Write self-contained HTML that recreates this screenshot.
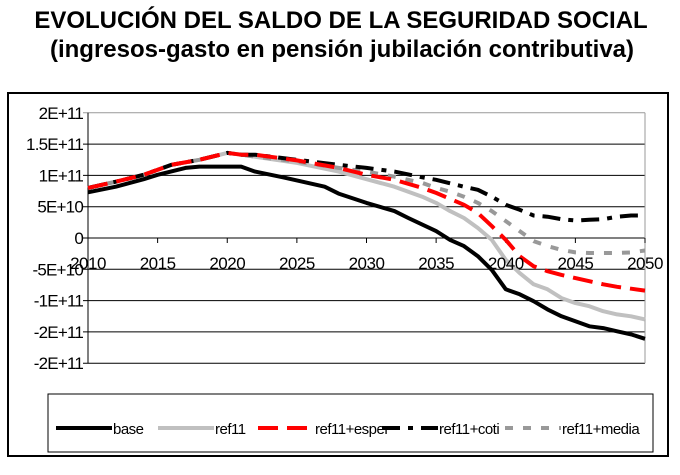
<!DOCTYPE html>
<html><head><meta charset="utf-8"><style>
body{margin:0;background:#fff;width:680px;height:470px;overflow:hidden;font-family:"Liberation Sans",Arial,sans-serif}
</style></head><body>
<svg id="chart" width="680" height="470" xmlns="http://www.w3.org/2000/svg">
<text x="341" y="28" text-anchor="middle" font-size="24" font-weight="bold">EVOLUCIÓN DEL SALDO DE LA SEGURIDAD SOCIAL</text>
<text x="342" y="57" text-anchor="middle" font-size="24" font-weight="bold">(ingresos-gasto en pensión jubilación contributiva)</text>
<rect x="8" y="93" width="660" height="363" fill="none" stroke="#000" stroke-width="2"/>
<g id="grid"></g><g id="series"></g><g id="labels"></g>
<rect x="48" y="394" width="605" height="58" fill="#fff" stroke="#000" stroke-width="1"/>
<g id="legend"></g>
</svg>
<script>
const yTicks=[20,15,10,5,0,-5,-10,-15,-20];
const yTickLabels=["2E+11","1.5E+11","1E+11","5E+10","0","-5E+10","-1E+11","-2E+11","-2E+11"];
const xTicks=[2010,2015,2020,2025,2030,2035,2040,2045,2050];
const seriesNames=["base","ref11","ref11+esper","ref11+coti","ref11+media"];
const commonYears=[2010,2012,2014,2016,2018,2020,2021];
const commonVals=[8,9,10.1,11.7,12.5,13.6,13.3];
const baseYears=[2010,2012,2014,2015,2017,2018,2021,2022,2024,2025,2027,2028,2030,2032,2033,2035,2036,2037,2038,2039,2040,2041,2042,2043,2044,2045,2046,2047,2048,2049,2050];
const baseVals=[7.3,8.2,9.4,10.1,11.2,11.4,11.4,10.6,9.7,9.2,8.2,7.1,5.6,4.3,3.2,1.1,-0.3,-1.3,-2.9,-5.1,-8.2,-9,-10.1,-11.4,-12.5,-13.3,-14.1,-14.4,-14.9,-15.4,-16.1];
const ref11Years=[2025,2028,2030,2032,2034,2035,2036,2037,2038,2039,2040,2041,2042,2043,2044,2045,2046,2047,2048,2049,2050];
const ref11Vals=[12.0,10.6,9.4,8.2,6.6,5.6,4.3,3.2,1.6,-0.3,-3.5,-5.6,-7.4,-8.2,-9.6,-10.4,-10.9,-11.7,-12.2,-12.5,-13];
const esperYears=[2022,2025,2028,2030,2032,2034,2035,2037,2038,2039,2040,2041,2042,2043,2044,2045,2046,2047,2048,2049,2050];
const esperVals=[13.3,12.4,11.2,10.1,9.3,8,7.2,5.3,4,1.9,-0.3,-2.9,-4.5,-5.3,-5.9,-6.4,-6.9,-7.4,-7.8,-8.1,-8.4];
const cotiYears=[2022,2025,2028,2030,2032,2034,2035,2037,2038,2039,2040,2041,2042,2043,2044,2045,2046,2047,2048,2049,2050];
const cotiVals=[13.3,12.5,11.7,11.2,10.6,9.7,9.3,8.2,7.7,6.6,5.3,4.5,3.6,3.4,3,2.8,2.9,3,3.4,3.6,3.6];
const mediaYears=[2022,2025,2028,2030,2032,2034,2035,2036,2037,2038,2039,2040,2041,2042,2043,2044,2045,2046,2047,2048,2049,2050];
const mediaVals=[13,12.2,11.2,10.6,9.8,8.8,8,7.4,6.6,5.6,4.3,2.7,1.1,-0.5,-1.3,-1.9,-2.3,-2.4,-2.4,-2.4,-2.3,-2];

const NS="http://www.w3.org/2000/svg";
const X0=88,X1=645,Y0=238,PX=31.3/5;
const x=yr=>X0+(yr-2010)*(X1-X0)/40;
const y=v=>Y0-v*PX;
function mk(tag,attrs,parent){const e=document.createElementNS(NS,tag);for(const k in attrs)e.setAttribute(k,attrs[k]);document.getElementById(parent).appendChild(e);return e;}
yTicks.forEach((t,i)=>{
  const g=mk('line',{x1:X0-5,x2:X1,y1:y(t),y2:y(t),stroke:i===0?'#999':'#000','stroke-width':1},'grid');
  
  
  const l=mk('text',{x:X0-5,y:y(t)+6,'text-anchor':'end','font-size':17,'letter-spacing':'-0.8'},'labels');
  l.textContent=yTickLabels[i];
  
  
});
const ax=mk('line',{x1:X0,x2:X0,y1:y(20),y2:y(-20),stroke:'#000','stroke-width':1},'grid');


const rb=mk('line',{x1:X1,x2:X1,y1:y(20),y2:y(-20),stroke:'#999','stroke-width':1},'grid');


xTicks.forEach(t=>{
  const tk=mk('line',{x1:x(t),x2:x(t),y1:Y0,y2:Y0+5,stroke:'#000'},'grid');
  
  
  const l=mk('text',{x:x(t),y:Y0+31,'text-anchor':'middle','font-size':17,'letter-spacing':'-0.5'},'labels');
  l.textContent=t;
  
  
});
const styles=[
 {c:'#000',d:'none'},
 {c:'#c0c0c0',d:'none'},
 {c:'#f00',d:'20 9'},
 {c:'#000',d:'18 8 5 8'},
 {c:'#999',d:'8 10'}];
const data=[
 [baseYears,baseVals],
 [commonYears.concat(ref11Years),commonVals.concat(ref11Vals)],
 [commonYears.concat(esperYears),commonVals.concat(esperVals)],
 [commonYears.concat(cotiYears),commonVals.concat(cotiVals)],
 [commonYears.concat(mediaYears),commonVals.concat(mediaVals)]];
const order=[1,4,3,2,0];
order.forEach(i=>{
  const [ys,vs]=data[i];
  const d=ys.map((yr,j)=>(j?'L':'M')+x(yr).toFixed(1)+','+y(vs[j]).toFixed(1)).join('');
  const p=mk('path',{d:d,fill:'none',stroke:styles[i].c,'stroke-width':4,'stroke-dasharray':styles[i].d,'stroke-linejoin':'round'},'series');
  
  
});
const legX=[56,158,258,382,505];
seriesNames.forEach((n,i)=>{
  const ln=mk('line',{x1:legX[i],x2:legX[i]+56,y1:428,y2:428,stroke:styles[i].c,'stroke-width':4,'stroke-dasharray':styles[i].d},'legend');
  
  
  const t=mk('text',{x:legX[i]+57,y:434,'font-size':15,'letter-spacing':'-0.5'},'legend');
  t.textContent=n;
  
  
});
</script>
</body></html>
